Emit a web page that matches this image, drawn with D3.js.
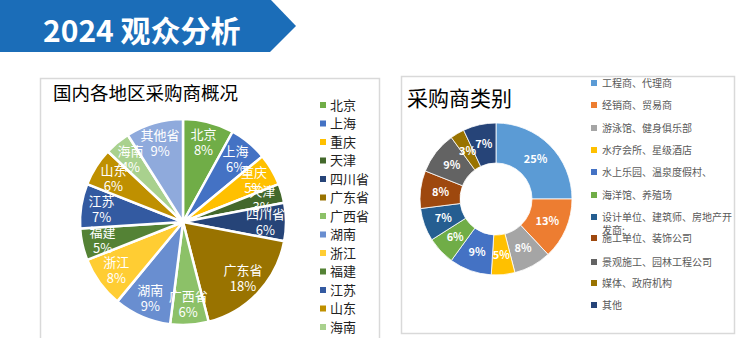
<!DOCTYPE html>
<html>
<head>
<meta charset="utf-8">
<script src="https://cdn.jsdelivr.net/npm/d3@7"></script>
<style>
  html, body { margin: 0; padding: 0; background: #fff; }
  svg { display: block; font-family: "Noto Sans CJK SC", "Noto Sans", sans-serif; }
</style>
</head>
<body>
<svg id="chart" width="738" height="338"></svg>
<script>
// region pie data
const regions = ['北京', '上海', '重庆', '天津', '四川省', '广东省', '广西省', '湖南', '浙江', '福建', '江苏', '山东', '海南', '其他省'];
const regionShares = [8, 6, 5, 3, 6, 18, 6, 9, 8, 5, 7, 6, 4, 9];

// buyer type donut data
const buyerTypes = ['工程商、代理商', '经销商、贸易商', '游泳馆、健身俱乐部', '水疗会所、星级酒店', '水上乐园、温泉度假村、',
    '海洋馆、养殖场', '设计单位、建筑师、房地产开发商;', '施工单位、装饰公司', '景观施工、园林工程公司', '媒体、政府机构', '其他'];
const buyerShares = [25, 13, 8, 5, 9, 6, 7, 8, 9, 3, 7];

const regionColors = ['#70AD47', '#4472C4', '#FFC000', '#43682B', '#264478', '#997300', '#8CC168',
    '#698ED0', '#FFCD33', '#548235', '#335AA1', '#BF9000', '#A9D18E', '#8FAADC'];
const buyerColors = ['#5B9BD5', '#ED7D31', '#A5A5A5', '#FFC000', '#4472C4', '#70AD47', '#255E91',
    '#9E480E', '#636363', '#997300', '#264478'];

const svg = d3.select('svg#chart');
const svgHeight = 338;

// header banner
const bannerPath = d3.path();
bannerPath.moveTo(0, 0);
bannerPath.lineTo(271, 0);
bannerPath.lineTo(296, 26);
bannerPath.lineTo(270, 52);
bannerPath.lineTo(0, 52);
bannerPath.closePath();
svg.append('path')
    .attr('d', bannerPath.toString())
    .attr('fill', '#1B6DB8');
svg.append('text')
    .text('2024 观众分析')
    .attr('x', 43)
    .attr('y', 42)
    .attr('fill', '#fff')
    .attr('font-size', 30)
    .attr('font-weight', 'bold');

// panel frames
svg.append('path')
    .attr('d', 'M40.5,340 L40.5,78.5 L379.5,78.5 L379.5,340')
    .attr('fill', 'none')
    .attr('stroke', '#d9d9d9')
    .attr('stroke-width', 1.5);
svg.append('rect')
    .attr('x', 401.5).attr('y', 76.5)
    .attr('width', 333).attr('height', 257)
    .attr('fill', 'none')
    .attr('stroke', '#d9d9d9')
    .attr('stroke-width', 1.5);

// titles
svg.append('text')
    .text('国内各地区采购商概况')
    .attr('x', 53).attr('y', 100)
    .attr('font-size', 18.5)
    .attr('fill', '#000');
svg.append('text')
    .text('采购商类别')
    .attr('x', 407).attr('y', 106)
    .attr('font-size', 21)
    .attr('fill', '#000');

/**
 * Region pie
 */
const pieCx = 183, pieCy = 222, pieR = 103;
const pieGen = d3.pie().sort(null).value(d => d.v);
const regionArcs = pieGen(regions.map((name, i) => ({ name, v: regionShares[i], i })));
const arcGen = d3.arc().innerRadius(0).outerRadius(pieR);
const labelArc = d3.arc().innerRadius(pieR * 0.8).outerRadius(pieR * 0.8);

const pieG = svg.append('g').attr('transform', `translate(${pieCx},${pieCy})`);
pieG.selectAll('path.slice')
    .data(regionArcs)
    .join('path')
    .classed('slice', true)
    .attr('d', arcGen)
    .attr('fill', d => regionColors[d.data.i])
    .attr('stroke', '#fff')
    .attr('stroke-width', 2.5)
    .attr('stroke-linejoin', 'round');

const pieLabels = pieG.selectAll('text.lbl')
    .data(regionArcs)
    .join('text')
    .classed('lbl', true)
    .attr('transform', d => `translate(${labelArc.centroid(d)})`)
    .attr('text-anchor', 'middle')
    .attr('fill', '#fff')
    .attr('font-size', 13);
pieLabels.append('tspan').attr('x', 0).attr('y', -3).text(d => d.data.name);
pieLabels.append('tspan').attr('x', 0).attr('y', 13).text(d => d.data.v + '%');

// region legend (entries past the bottom edge are clipped, as in the original)
const legL = svg.append('g');
regions.forEach((name, i) => {
    const y = 105 + i * 18.5;
    if (y + 6 > svgHeight) return;
    legL.append('rect')
        .attr('x', 320).attr('y', y - 3)
        .attr('width', 6).attr('height', 6)
        .attr('fill', regionColors[i]);
    legL.append('text')
        .text(name)
        .attr('x', 330).attr('y', y + 4.5)
        .attr('font-size', 13)
        .attr('fill', '#222');
});

/**
 * Buyer type donut
 */
const dCx = 496, dCy = 199, dOuter = 76, dInner = 36;
const donutArcs = pieGen(buyerTypes.map((name, i) => ({ name, v: buyerShares[i], i })));
const donutArc = d3.arc().innerRadius(dInner).outerRadius(dOuter);
const dG = svg.append('g').attr('transform', `translate(${dCx},${dCy})`);
dG.selectAll('path.seg')
    .data(donutArcs)
    .join('path')
    .classed('seg', true)
    .attr('d', donutArc)
    .attr('fill', d => buyerColors[d.data.i])
    .attr('stroke', '#fff')
    .attr('stroke-width', 0.8);
dG.selectAll('text.pct')
    .data(donutArcs)
    .join('text')
    .classed('pct', true)
    .attr('transform', d => `translate(${donutArc.centroid(d)})`)
    .attr('text-anchor', 'middle')
    .attr('dy', '0.36em')
    .attr('fill', '#fff')
    .attr('font-size', 11)
    .attr('font-weight', 'bold')
    .text(d => d.data.v + '%');

// buyer legend
const legR = svg.append('g');
const legRowY = [83, 105, 128, 150, 172, 195, 217, 238, 262, 283, 305];
buyerTypes.forEach((name, i) => {
    const y = legRowY[i];
    legR.append('rect')
        .attr('x', 591).attr('y', y - 3)
        .attr('width', 6).attr('height', 6)
        .attr('fill', buyerColors[i]);
    const t = legR.append('text')
        .attr('x', 602).attr('y', y + 4)
        .attr('font-size', 10)
        .attr('fill', '#595959');
    // wrap long labels at the legend width
    const chars = Array.from(name);
    let line = '';
    let tspan = t.append('tspan').attr('x', 602);
    chars.forEach(ch => {
        tspan.text(line + ch);
        if (tspan.node().getComputedTextLength() > 131 && line.length > 0) {
            tspan.text(line);
            line = ch;
            tspan = t.append('tspan').attr('x', 602).attr('dy', 13).text(ch);
        } else {
            line += ch;
        }
    });
});
</script>
</body>
</html>
